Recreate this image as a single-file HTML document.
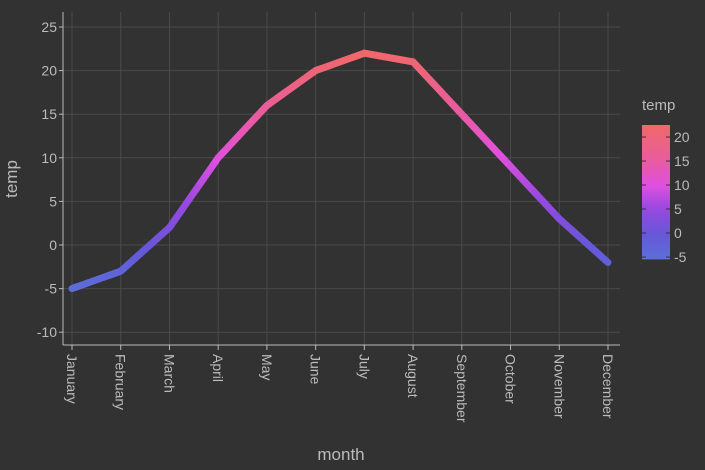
<!DOCTYPE html>
<html><head><meta charset="utf-8"><style>
body{margin:0;background:#323232;}
svg{display:block;font-family:"Liberation Sans",sans-serif;}
</style></head><body>
<svg id="c" width="705" height="470"></svg>
<script>
const months=["January","February","March","April","May","June","July","August","September","October","November","December"];
const temps=[-5,-3,2,10,16,20,22,21,15,9,3,-2];
const yTicks=[-10,-5,0,5,10,15,20,25];
const legendTicks=[-5,0,5,10,15,20];
const NS="http://www.w3.org/2000/svg";
const svg=document.getElementById('c');
function el(t,a,p){const e=document.createElementNS(NS,t);for(const k in a)e.setAttribute(k,a[k]);(p||svg).appendChild(e);return e;}
const x0=63,x1=620,yTop=12,yBot=345;
const xs=i=>72+i*(608-72)/11;
const ys=v=>245-v*8.72;
el('rect',{x:x0,y:yTop,width:x1-x0,height:yBot-yTop,fill:'#323232'});
const stops=[[-5.5,[90,112,216]],[0,[104,86,216]],[5,[150,72,224]],[10,[224,80,224]],[15,[232,92,160]],[22,[240,104,106]]];
function col(v){for(let i=0;i<stops.length-1;i++){const a=stops[i],b=stops[i+1];if(v<=b[0]||i==stops.length-2){let t=(v-a[0])/(b[0]-a[0]);t=Math.max(0,Math.min(1,t));const c=a[1].map((q,j)=>Math.round(q+(b[1][j]-q)*t));return `rgb(${c})`;}}}
yTicks.forEach(v=>{const g=el('line',{x1:x0,x2:x1,y1:ys(v),y2:ys(v),stroke:'#4a4a4a','stroke-width':1});

const t=el('text',{x:57,y:ys(v)+5,'text-anchor':'end',fill:'#bbbbbb','font-size':14});t.textContent=v;

el('line',{x1:x0-4,x2:x0,y1:ys(v),y2:ys(v),stroke:'#bbbbbb'});});
months.forEach((m,i)=>{const g=el('line',{x1:xs(i),x2:xs(i),y1:yTop,y2:yBot,stroke:'#4a4a4a'});

el('line',{x1:xs(i),x2:xs(i),y1:yBot,y2:yBot+5,stroke:'#bbbbbb'});
const t=el('text',{x:0,y:0,transform:`translate(${xs(i)-5},${yBot+9}) rotate(90)`,fill:'#bbbbbb','font-size':14});t.textContent=m;
});
el('line',{x1:x0,x2:x0,y1:yTop,y2:yBot,stroke:'#bbbbbb'});
el('line',{x1:x0,x2:x1,y1:yBot,y2:yBot,stroke:'#bbbbbb'});
const N=20;
for(let i=0;i<temps.length-1;i++){for(let k=0;k<N;k++){const t0=k/N,t1=(k+1)/N;
const va=temps[i]+(temps[i+1]-temps[i])*t0,vb=temps[i]+(temps[i+1]-temps[i])*t1;
const s=el('line',{x1:xs(i+t0),y1:ys(va),x2:xs(i+t1),y2:ys(vb),stroke:col((va+vb)/2),'stroke-width':7,'stroke-linecap':'round'});
}}
let t=el('text',{x:341,y:460,'text-anchor':'middle',fill:'#bbbbbb','font-size':17});t.textContent='month';

t=el('text',{x:0,y:0,transform:'translate(17,179) rotate(-90)','text-anchor':'middle',fill:'#bbbbbb','font-size':17});t.textContent='temp';

t=el('text',{x:642,y:168-58,fill:'#bbbbbb','font-size':15});t.textContent='temp';

const ly=v=>233-v*4.8;
const defs=el('defs',{});const gr=el('linearGradient',{id:'lg',x1:0,y1:1,x2:0,y2:0},defs);
const lo=-5.5,hi=22.5;
for(let k=0;k<=20;k++){const v=lo+(hi-lo)*k/20;el('stop',{offset:k/20,'stop-color':col(v)},gr);}
const bar=el('rect',{x:642,y:ly(hi),width:28,height:ly(lo)-ly(hi),fill:'url(#lg)'});

legendTicks.forEach(v=>{el('line',{x1:642,x2:646,y1:ly(v),y2:ly(v),stroke:'#333'});el('line',{x1:666,x2:670,y1:ly(v),y2:ly(v),stroke:'#333'});
const q=el('text',{x:674,y:ly(v)+5,fill:'#bbbbbb','font-size':14});q.textContent=v;
});
</script>
</body></html>
